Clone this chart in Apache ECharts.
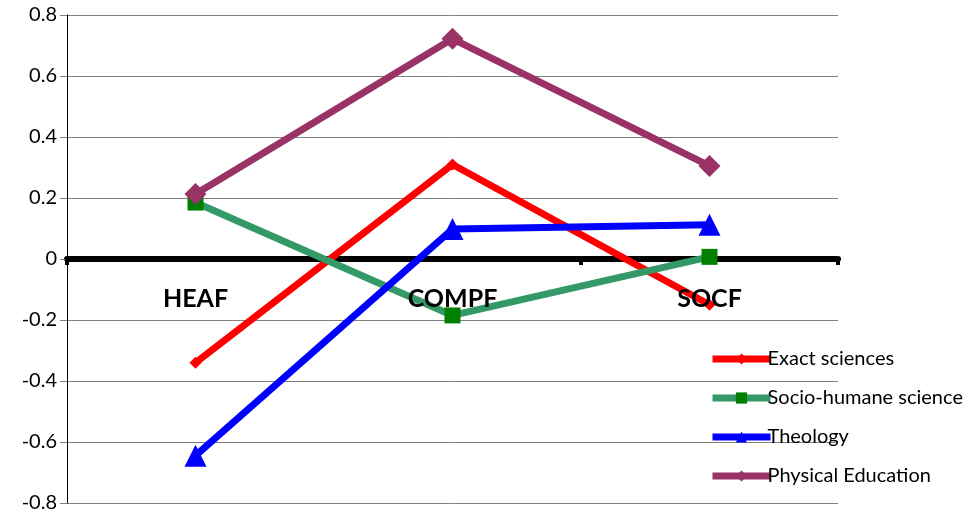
<!DOCTYPE html>
<html><head><meta charset="utf-8">
<script src="https://cdn.jsdelivr.net/npm/echarts@6/dist/echarts.min.js"></script>
<style>html,body{margin:0;padding:0;background:#fff}#c{width:968px;height:514px}</style>
</head><body><div id="c"></div>
<script>
var categories = ["HEAF", "COMPF", "SOCF"];
var exactSciences = [-0.34, 0.31, -0.15];
var socioHumane = [0.185, -0.185, 0.007];
var theology = [-0.645, 0.098, 0.112];
var physicalEducation = [0.213, 0.722, 0.305];
var seriesNames = ["Exact sciences", "Socio-humane science", "Theology", "Physical Education"];

var font = "Lato, 'Open Sans', sans-serif";
function mk(name, data, color, symbol, size, symColor) {
  return {
    name: name, type: 'line', data: data, xAxisIndex: 0,
    symbol: symbol, symbolSize: size,
    lineStyle: {color: color, width: 7},
    itemStyle: {color: symColor || color},
    emphasis: {disabled: true},
    animation: false
  };
}
var chart = echarts.init(document.getElementById('c'));
chart.setOption({
  animation: false,
  grid: {left: 67, right: 130, top: 15, bottom: 11, containLabel: false, outerBoundsMode: 'none'},
  legend: {
    orient: 'vertical', left: 704, top: 344, itemGap: 19,
    itemWidth: 58, itemHeight: 14,
    lineStyle: {width: 7},
    textStyle: {fontFamily: font, fontSize: 20, color: '#000', padding: [0,0,0,-8]},
    data: seriesNames
  },
  xAxis: [{
    type: 'category', data: categories, boundaryGap: true,
    axisLine: {onZero: true, lineStyle: {color: '#000', width: 6}},
    axisTick: {show: true, length: 6, lineStyle: {color: '#000', width: 4}},
    axisLabel: {show: false},
    splitLine: {show: false}
  }, {
    type: 'category', data: categories, boundaryGap: true, position: 'bottom', z: 10,
    axisLine: {show: false}, axisTick: {show: false},
    axisLabel: {fontFamily: font, fontSize: 25, fontWeight: 'bold', color: '#000', margin: -217},
    splitLine: {show: false}
  }],
  yAxis: {
    type: 'value', min: -0.8, max: 0.8, interval: 0.2,
    axisLine: {show: true, lineStyle: {color: '#000', width: 1}},
    axisTick: {show: true, length: 7, lineStyle: {color: '#808080'}},
    axisLabel: {fontFamily: font, fontSize: 20, color: '#000', margin: 10,
      formatter: function (v) { return Math.abs(v) < 1e-9 ? '0' : String(Math.round(v * 10) / 10); }},
    splitLine: {show: true, lineStyle: {color: '#808080', width: 1}}
  },
  series: [
    mk(seriesNames[0], exactSciences, '#FF0000', 'diamond', 12),
    mk(seriesNames[1], socioHumane, '#339966', 'rect', 16, '#008000'),
    mk(seriesNames[2], theology, '#0000FF', 'triangle', 22),
    mk(seriesNames[3], physicalEducation, '#993366', 'diamond', 22)
  ]
});
</script></body></html>
